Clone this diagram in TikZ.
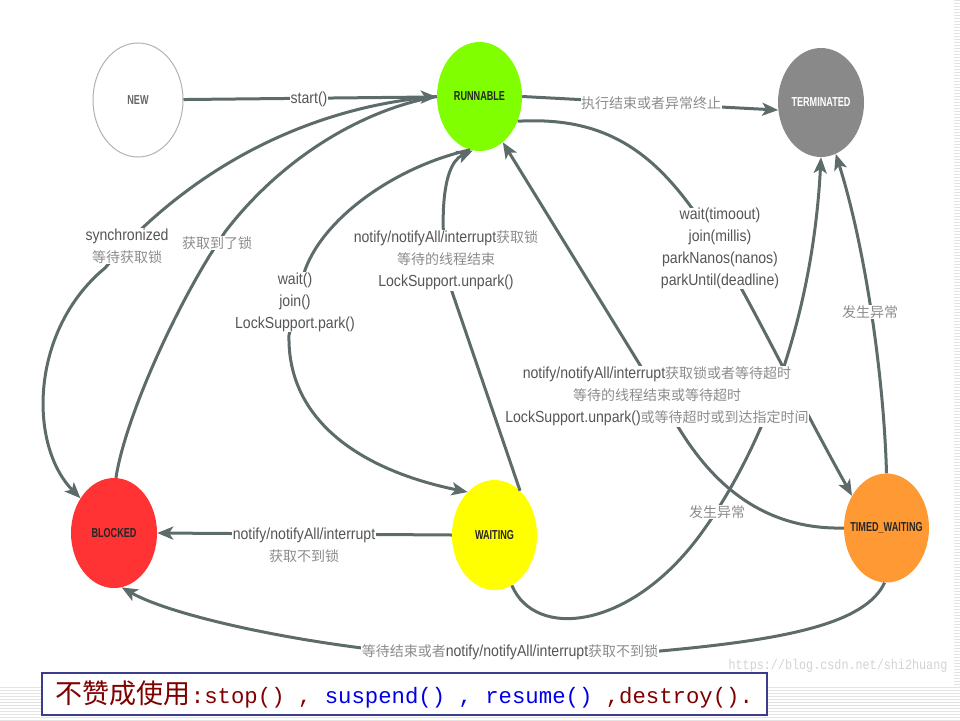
\documentclass[tikz,border=0pt]{standalone}
\usepackage{fontspec}
\usetikzlibrary{shapes.geometric,arrows.meta}
\newfontfamily\latinfont{Liberation Sans}[FakeStretch=0.88]
\newfontfamily\cjkfont{Noto Sans CJK SC}
\newfontfamily\statefont{Liberation Sans}[FakeStretch=0.7]
\newfontfamily\codefont{Liberation Mono}
\newfontfamily\wmfont{Liberation Mono}[FakeStretch=0.84]
\definecolor{edgec}{RGB}{94,107,107}
\definecolor{latc}{RGB}{85,85,85}
\definecolor{zhc}{RGB}{140,140,140}
\definecolor{runc}{RGB}{128,255,0}
\definecolor{termc}{RGB}{137,137,137}
\definecolor{blockc}{RGB}{255,51,51}
\definecolor{waitc}{RGB}{255,255,0}
\definecolor{timedc}{RGB}{255,153,51}
\definecolor{noter}{RGB}{128,0,0}
\definecolor{noteb}{RGB}{0,0,230}
\definecolor{boxc}{RGB}{60,60,140}
\newcommand\zh[1]{{\fontsize{14}{22}\selectfont\cjkfont\color{zhc}#1}}
\begin{document}
\begin{tikzpicture}[x=1pt,y=-1pt,
  stnode/.style={ellipse, inner sep=0pt, minimum width=86pt, minimum height=110pt,
    font=\fontsize{13}{13}\selectfont\statefont\bfseries},
  conn/.style={draw=edgec, line width=3pt},
  arr/.style={conn, -{Stealth[length=16pt,width=13pt,inset=4pt]}},
  lbl/.style={fill=white, inner sep=0.5pt, align=center, text=latc,
    font=\fontsize{16}{22}\selectfont\latinfont},
  stripe/.style={draw=gray!22, line width=1pt}]
\useasboundingbox (0,0) rectangle (960,720);
% background stripes
\foreach \yy in {0,3,...,684} \draw[stripe] (954,\yy) -- (960,\yy);
\foreach \yy in {687,690,...,720} \draw[stripe] (0,\yy) -- (960,\yy);
% states
\node[stnode, draw=gray!60, line width=1pt, fill=white, text=gray!80!black,
  minimum width=90pt, minimum height=114pt] (new) at (138,100) {\makebox[0pt]{NEW}};
\node[stnode, fill=runc, text=black!85, minimum width=85pt, minimum height=109pt] (run) at (479.5,96.5) {\makebox[0pt]{RUNNABLE}};
\node[stnode, fill=termc, text=white, minimum height=109pt] (term) at (821,102.5) {\makebox[0pt]{TERMINATED}};
\node[stnode, fill=blockc, text=black!85] (blocked) at (114,533) {\makebox[0pt]{BLOCKED}};
\node[stnode, fill=waitc, text=black!85, minimum width=85pt] (waiting) at (494.5,535) {\makebox[0pt]{WAITING}};
\node[stnode, fill=timedc, text=black!85, minimum width=85pt, minimum height=109pt] (timed) at (886.5,528) {\makebox[0pt]{TIMED\_WAITING}};
% connectors
\draw[conn] (blocked.88) .. controls (125,420) and (170,320) .. (210,255) -- (225,232)
  .. controls (280,160) and (360,110) .. (run.west);
\draw[arr] (run.west) .. controls (330,105) and (220,150) .. (130,240) -- (105,268)
  .. controls (30,330) and (28,445) .. (blocked.134);
\draw[arr] (new) -- (run);
\draw[arr] (run.east) -- (term.190);
\draw[arr] (run.-33) .. controls (680,112) and (710,240) .. (timed.137);
\draw[arr] (timed.north) .. controls (884,380) and (866,250) .. (term.-74);
\draw[arr] (waiting.-71) .. controls (535,640) and (630,630) .. (700,535)
  .. controls (756,459) and (812,330) .. (term.south);
\draw[arr] (timed.west) .. controls (760,530) and (711,480) .. (680,430) -- (run.-63);
\draw[arr] (run.-100) .. controls (400,165) and (325,215) .. (305,270) -- (289,335)
  .. controls (287,420) and (360,470) .. (waiting.122);
\draw[arr] (waiting.60) -- (448,280) .. controls (440,230) and (440,165) .. (run.-97);
\draw[arr] (waiting.west) -- (blocked.east);
\draw[arr] (timed.-92) .. controls (865,625) and (780,640) .. (660,651) -- (362,648)
  .. controls (260,635) and (165,612) .. (blocked.-82);
% labels
\node[lbl] (lstart) at (309,99) {start()};
\node[lbl] (lterm) at (651,103) {\zh{执行结束或者异常终止}};
\node[lbl] (ltimed) at (720,248.5) {wait(timoout)\\join(millis)\\parkNanos(nanos)\\parkUntil(deadline)};
\node[lbl] (lexc1) at (870,312) {\zh{发生异常}};
\node[lbl] (lexc2) at (717,512) {\zh{发生异常}};
\node[lbl] (lmid) at (657,396.5) {notify/notifyAll/interrupt\zh{获取锁或者等待超时}\\\zh{等待的线程结束或等待超时}\\LockSupport.unpark()\zh{或等待超时或到达指定时间}};
\node[lbl] (lnotify) at (446,260.5) {notify/notifyAll/interrupt\zh{获取锁}\\\zh{等待的线程结束}\\LockSupport.unpark()};
\node[lbl] (lwait) at (295,302) {wait()\\join()\\LockSupport.park()};
\node[lbl] (lsync) at (127,246) {synchronized\\\zh{等待获取锁}};
\node[lbl] (lgot) at (217,243) {\zh{获取到了锁}};
\node[lbl] (lwb) at (304,545) {notify/notifyAll/interrupt\\\zh{获取不到锁}};
\node[lbl] (lbottom) at (510,652) {\zh{等待结束或者}notify/notifyAll/interrupt\zh{获取不到锁}};
% watermark
\node[text=gray!35, font=\fontsize{14}{14}\selectfont\wmfont] (wm) at (838,666) {https://blog.csdn.net/shi2huang};
% note box
\node[draw=boxc, line width=1.5pt, fill=white, minimum width=725pt, minimum height=42pt, inner sep=0pt] (note) at (404.5,694)
  {\fontsize{27}{27}\selectfont\cjkfont\color{noter}不赞成使用\codefont\fontsize{22.3}{27}\selectfont:stop() , \color{noteb}suspend() , resume() \color{noter},destroy().};
\end{tikzpicture}
\end{document}
